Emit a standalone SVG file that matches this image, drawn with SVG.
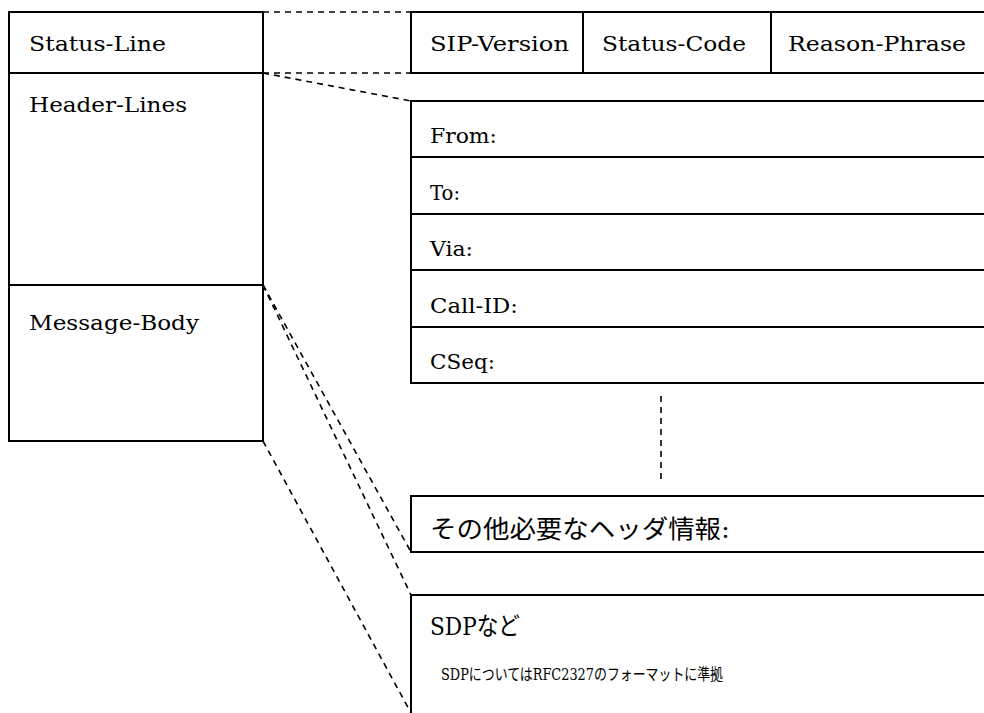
<svg xmlns="http://www.w3.org/2000/svg" width="984" height="713" viewBox="0 0 984 713">
<style>
.box{fill:#fff;stroke:#000;stroke-width:2}
.ln{stroke:#000;stroke-width:2;fill:none}
.dash{stroke:#000;stroke-width:1.6;fill:none;stroke-dasharray:6 5}
.t{font-family:"DejaVu Serif","Liberation Serif",serif;font-size:21px;fill:#000}
.j{font-family:"DejaVu Serif","Noto Sans CJK JP",serif;font-size:25px;fill:#000}
.s{font-family:"DejaVu Serif","Noto Sans CJK JP",serif;font-size:16px;fill:#000}
</style>
<rect width="984" height="713" fill="#fff"/>
<g id="connectors">
<line class="dash" x1="263" y1="12" x2="411" y2="12"/>
<line class="dash" x1="263" y1="73" x2="411" y2="73"/>
<line class="dash" x1="263" y1="73" x2="411" y2="101"/>
<line class="dash" x1="263" y1="285" x2="411" y2="552"/>
<line class="dash" x1="263" y1="285" x2="411" y2="595"/>
<line class="dash" x1="263" y1="441" x2="411" y2="713"/>
<line class="dash" x1="661" y1="396" x2="661" y2="483"/>
</g>
<g id="message">
<rect class="box" x="9" y="12" width="254" height="429"/>
<line class="ln" x1="9" y1="73" x2="263" y2="73"/>
<line class="ln" x1="9" y1="285" x2="263" y2="285"/>
<text class="t" x="29" y="51" textLength="137" lengthAdjust="spacingAndGlyphs">Status-Line</text>
<text class="t" x="29" y="112" textLength="158" lengthAdjust="spacingAndGlyphs">Header-Lines</text>
<text class="t" x="29" y="330" textLength="170" lengthAdjust="spacingAndGlyphs">Message-Body</text>
</g>
<g id="status-line">
<rect class="box" x="411" y="12" width="600" height="61"/>
<line class="ln" x1="583" y1="12" x2="583" y2="73"/>
<line class="ln" x1="771" y1="12" x2="771" y2="73"/>
<text class="t" x="430" y="51" textLength="139" lengthAdjust="spacingAndGlyphs">SIP-Version</text>
<text class="t" x="602" y="51" textLength="144" lengthAdjust="spacingAndGlyphs">Status-Code</text>
<text class="t" x="788" y="51" textLength="178" lengthAdjust="spacingAndGlyphs">Reason-Phrase</text>
</g>
<g id="headers">
<rect class="box" x="411" y="101" width="600" height="282"/>
<line class="ln" x1="411" y1="157" x2="990" y2="157"/>
<line class="ln" x1="411" y1="214" x2="990" y2="214"/>
<line class="ln" x1="411" y1="270" x2="990" y2="270"/>
<line class="ln" x1="411" y1="327" x2="990" y2="327"/>
<text class="t" x="430" y="143" textLength="67" lengthAdjust="spacingAndGlyphs">From:</text>
<text class="t" x="430" y="200" textLength="30" lengthAdjust="spacingAndGlyphs">To:</text>
<text class="t" x="430" y="256" textLength="43" lengthAdjust="spacingAndGlyphs">Via:</text>
<text class="t" x="430" y="313" textLength="88" lengthAdjust="spacingAndGlyphs">Call-ID:</text>
<text class="t" x="430" y="369" textLength="65" lengthAdjust="spacingAndGlyphs">CSeq:</text>
</g>
<g id="other-headers">
<rect class="box" x="411" y="496" width="600" height="56"/>
<text class="j" x="430" y="538" textLength="300" lengthAdjust="spacingAndGlyphs">その他必要なヘッダ情報:</text>
</g>
<g id="body">
<rect class="box" x="411" y="595" width="600" height="140"/>
<text class="j" x="430" y="635" textLength="90" lengthAdjust="spacingAndGlyphs">SDPなど</text>
<text class="s" x="441" y="680" textLength="282" lengthAdjust="spacingAndGlyphs">SDPについてはRFC2327のフォーマットに準拠</text>
</g>
</svg>
